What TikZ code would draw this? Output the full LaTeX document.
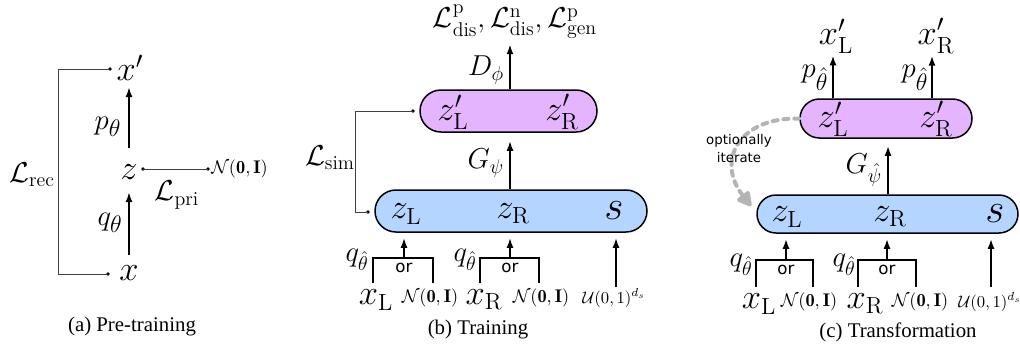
\documentclass[tikz,border=0pt]{standalone}
\usepackage{amsmath,amssymb}
\usepackage{fontspec}
\newfontfamily\capfont{Liberation Serif}
\newfontfamily\sansf{DejaVu Sans}
\usetikzlibrary{arrows.meta,calc}
\definecolor{purp}{RGB}{229,180,255}
\definecolor{blu}{RGB}{180,213,255}
\definecolor{itgray}{RGB}{180,180,180}
\begin{document}
\begin{tikzpicture}[x=0.6pt,y=-0.6pt,
  mbig/.style={font=\fontsize{20}{24}\selectfont, inner sep=0pt},
  mhuge/.style={font=\fontsize{25}{30}\selectfont, inner sep=0pt},
  mmid/.style={font=\fontsize{19}{22}\selectfont, inner sep=0pt},
  mdg/.style={font=\fontsize{17}{20}\selectfont, inner sep=0pt},
  mlab/.style={font=\fontsize{17}{20}\selectfont, inner sep=0pt},
  msmall/.style={font=\fontsize{11}{13}\selectfont, inner sep=0pt},
  mtiny/.style={font=\fontsize{10}{12}\selectfont, inner sep=0pt},
  ortext/.style={font=\sansf\fontsize{10}{12}\selectfont, inner sep=0pt},
  itext/.style={font=\sansf\fontsize{8}{10.8}\selectfont, inner sep=0pt, align=center},
  capt/.style={font=\capfont\fontsize{12.5}{14}\selectfont, inner sep=0pt},
  arr/.style={line width=1.2pt,-{Latex[length=6pt,width=4.2pt]}},
  brline/.style={line width=0.6pt, draw=black!75},
  fork/.style={line width=0.9pt},
  dotn/.style={circle,fill=black,inner sep=0pt,minimum size=2.2pt},
  pbox/.style={draw, line width=0.9pt, fill=purp, inner sep=0pt},
  bbox/.style={draw, line width=0.9pt, fill=blu, inner sep=0pt},
  itdash/.style={draw=itgray, line width=2.4pt, dash pattern=on 3pt off 3.5pt, line cap=round,
     -{Triangle[length=10pt,width=10pt,fill=itgray,round=false]}},
]
\useasboundingbox (0,0) rectangle (1020,351);

% ---------------- (a) ----------------
\node[mbig] (xp) at (130,68) {$x'$};
\node[mbig] (za) at (129,172) {$z$};
\node[mbig] (xa) at (129,273) {$x$};
\draw[arr, shorten <=14.4pt, shorten >=11.4pt] (za.center) -- (za.center |- xp.center);
\draw[arr, shorten <=10.8pt, shorten >=12pt] (xa.center) -- (xa.center |- za.center);
\node[mmid] (pa) at (108,127) {$p_\theta$};
\node[mmid] (qa) at (110,223) {$q_\theta$};
\node[dotn] (d1) at (110,69) {};
\node[dotn] (d2) at (108,274) {};
\draw[brline] (d1.center) -- ++(-52,0) |- (d2.center);
\node[mlab] (lrec) at (32,175) {$\mathcal{L}_{\mathrm{rec}}$};
\node[dotn] (d3) at (143,169) {};
\node[dotn] (d4) at (208,169) {};
\draw[brline] (d3.center) -- (d4.center);
\node[msmall, anchor=west] (na) at (211,169) {$\mathcal{N}(\mathbf{0},\mathbf{I})$};
\node[mlab] (lpri) at (177,195) {$\mathcal{L}_{\mathrm{pri}}$};
\node[capt] (capa) at (132,327) {(a) Pre-training};

% ---------------- (b) ----------------
\node[pbox, minimum width=106.2pt, minimum height=25.2pt, rounded corners=12.6pt] (pb) at (508.5,111) {};
\node[bbox, minimum width=163.2pt, minimum height=25.2pt, rounded corners=12.6pt] (bb) at (511,211) {};
\node[mbig] (zlpb) at (453,112) {$z'_{\mathrm{L}}$};
\node[mbig] (zrpb) at (562,112) {$z'_{\mathrm{R}}$};
\node[mbig] (zlb) at (406,214) {$z_{\mathrm{L}}$};
\node[mbig] (zrb) at (513,214) {$z_{\mathrm{R}}$};
\node[mhuge] (sb) at (614,211) {$s$};
\node[mdg] (lossb) at (515,22) {$\mathcal{L}^{\mathrm{p}}_{\mathrm{dis}}, \mathcal{L}^{\mathrm{n}}_{\mathrm{dis}}, \mathcal{L}^{\mathrm{p}}_{\mathrm{gen}}$};
\coordinate (dxb) at (510,0);
\draw[arr, shorten >=3pt] (pb.north -| dxb) -- (lossb.south -| dxb);
\node[mdg] (db) at (486,70) {$D_\phi$};
\draw[arr, shorten >=4.8pt] (bb.north -| dxb) -- (pb.south -| dxb);
\node[mdg] (gb) at (486,163) {$G_\psi$};
\node[dotn] (d5) at (413,111) {};
\node[dotn] (d6) at (368,212) {};
\draw[brline] (d5.center) -- ++(-58,0) |- (d6.center);
\node[mlab] (lsim) at (330,158) {$\mathcal{L}_{\mathrm{sim}}$};
% inputs
\coordinate (f1) at (404,258);
\coordinate (f2) at (510,258);
\draw[fork] ($(f1)+(-31,25)$) -- ++(0,-25) -- ++(60,0) -- ++(0,25);
\draw[fork] ($(f2)+(-30,25)$) -- ++(0,-25) -- ++(59,0) -- ++(0,25);
\draw[arr, shorten >=3pt] (f1) -- (bb.south -| f1);
\draw[arr, shorten >=3pt] (f2) -- (bb.south -| f2);
\node[ortext] (or1) at (404,268) {or};
\node[ortext] (or2) at (510,268) {or};
\node[mdg] (q1b) at (357,260) {$q_{\hat\theta}$};
\node[mdg] (q2b) at (465,260) {$q_{\hat\theta}$};
\node[mbig] (xlb) at (376,300) {$x_{\mathrm{L}}$};
\node[msmall] (n1b) at (430,298) {$\mathcal{N}(\mathbf{0},\mathbf{I})$};
\node[mbig] (xrb) at (484,300) {$x_{\mathrm{R}}$};
\node[msmall] (n2b) at (541,298) {$\mathcal{N}(\mathbf{0},\mathbf{I})$};
\node[mtiny] (ub) at (614,298) {$\mathcal{U}(0,1)^{d_s}$};
\coordinate (sxb) at (616,287);
\draw[arr, shorten >=3pt] (sxb) -- (bb.south -| sxb);
\node[capt] (capb) at (478,330) {(b) Training};

% ---------------- (c) ----------------
\node[pbox, minimum width=103.2pt, minimum height=23.4pt, rounded corners=11.7pt] (pc) at (886,118.5) {};
\node[bbox, minimum width=156.6pt, minimum height=22.8pt, rounded corners=11.4pt] (bc) at (887.5,214) {};
\node[mbig] (zlpc) at (833,119) {$z'_{\mathrm{L}}$};
\node[mbig] (zrpc) at (936,119) {$z'_{\mathrm{R}}$};
\node[mbig] (zlc) at (787,217) {$z_{\mathrm{L}}$};
\node[mbig] (zrc) at (890,217) {$z_{\mathrm{R}}$};
\node[mhuge] (sc) at (995,214) {$s$};
\node[mbig] (xlpc) at (836,36) {$x'_{\mathrm{L}}$};
\node[mbig] (xrpc) at (936,36) {$x'_{\mathrm{R}}$};
\coordinate (a1) at (833,0);
\coordinate (a2) at (932,0);
\draw[arr, shorten >=1pt] (pc.north -| a1) -- (xlpc.south -| a1);
\draw[arr, shorten >=1pt] (pc.north -| a2) -- (xrpc.south -| a2);
\node[mmid] (p1c) at (815,78) {$p_{\hat\theta}$};
\node[mmid] (p2c) at (915,78) {$p_{\hat\theta}$};
\coordinate (gxc) at (888,0);
\draw[arr, shorten >=4.2pt] (bc.north -| gxc) -- (pc.south -| gxc);
\node[mdg] (gc) at (864,170) {$G_{\hat\psi}$};
\coordinate (itend) at (751,206);
\draw[itdash] (pc.west) .. controls (740,117) and (715,160) .. (itend);
\node[itext] (it) at (739,149) {optionally\\iterate};
% inputs
\coordinate (f3) at (786,260);
\coordinate (f4) at (887,260);
\draw[fork] ($(f3)+(-30,27)$) -- ++(0,-27) -- ++(57,0) -- ++(0,27);
\draw[fork] ($(f4)+(-29,27)$) -- ++(0,-27) -- ++(58,0) -- ++(0,27);
\draw[arr, shorten >=3pt] (f3) -- (bc.south -| f3);
\draw[arr, shorten >=3pt] (f4) -- (bc.south -| f4);
\node[ortext] (or3) at (786,270) {or};
\node[ortext] (or4) at (887,270) {or};
\node[mdg] (q1c) at (741,265) {$q_{\hat\theta}$};
\node[mdg] (q2c) at (844,265) {$q_{\hat\theta}$};
\node[mbig] (xlc) at (759,304) {$x_{\mathrm{L}}$};
\node[msmall] (n1c) at (809,302) {$\mathcal{N}(\mathbf{0},\mathbf{I})$};
\node[mbig] (xrc) at (865,304) {$x_{\mathrm{R}}$};
\node[msmall] (n2c) at (920,302) {$\mathcal{N}(\mathbf{0},\mathbf{I})$};
\node[mtiny] (uc) at (990,302) {$\mathcal{U}(0,1)^{d_s}$};
\coordinate (sxc) at (991,287);
\draw[arr, shorten >=3pt] (sxc) -- (bc.south -| sxc);
\node[capt] (capc) at (898,332) {(c) Transformation};
\end{tikzpicture}
\end{document}
